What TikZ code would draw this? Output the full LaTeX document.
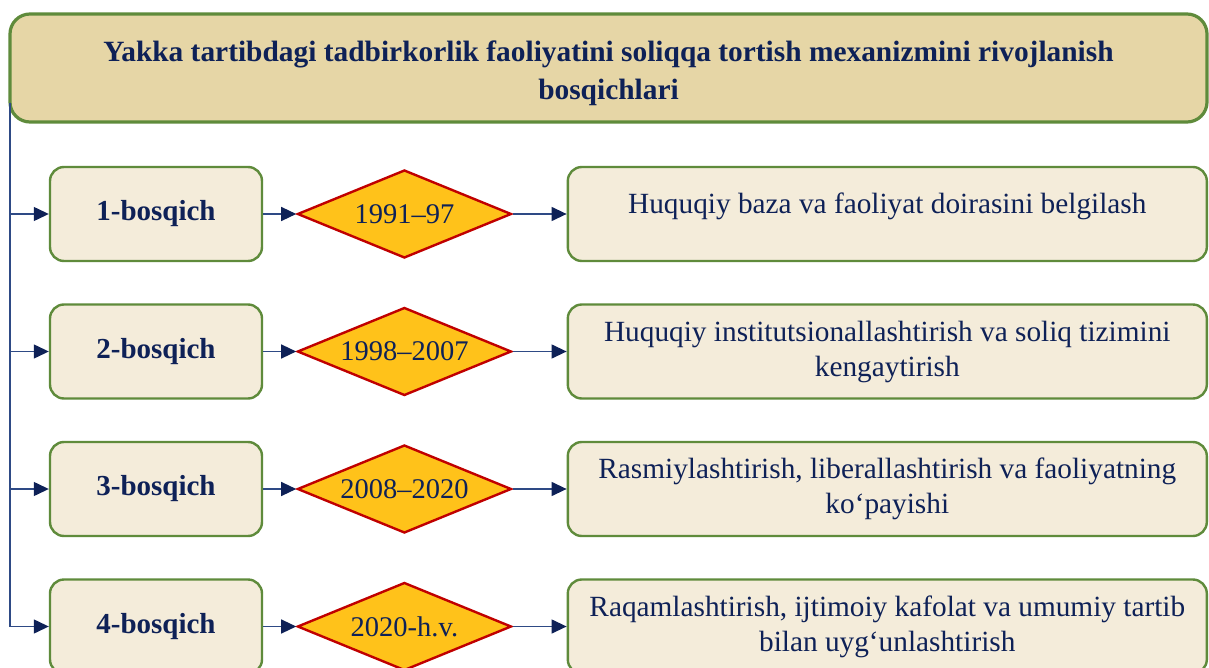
\documentclass[tikz,border=0pt]{standalone}
\usepackage{fontspec}
\setmainfont{Liberation Serif}
\usetikzlibrary{arrows.meta,positioning,shapes.geometric}
\definecolor{navy}{HTML}{0E2157}
\definecolor{linkblue}{HTML}{2E4A85}
\definecolor{leaf}{HTML}{5F8B3B}
\definecolor{sand}{HTML}{E6D6A6}
\definecolor{cream}{HTML}{F4ECDA}
\definecolor{gold}{HTML}{FFC21A}
\definecolor{brick}{HTML}{C00000}
\tikzset{
  titlebox/.style={draw=leaf, fill=sand, line width=3.2pt, rounded corners=20pt,
    minimum width=1197pt, minimum height=108pt, align=center, text=navy,
    font=\bfseries\fontsize{29.4}{38}\selectfont},
  stagebox/.style={draw=leaf, fill=cream, line width=2.4pt, rounded corners=14pt,
    minimum width=212pt, minimum height=94pt, text=navy,
    font=\bfseries\fontsize{29}{35}\selectfont},
  yearbox/.style={diamond, shape aspect=2.4, draw=brick, fill=gold, line width=2.4pt,
    inner sep=0pt, minimum width=214pt, minimum height=88pt, text=navy,
    font=\fontsize{28.5}{34}\selectfont},
  aimbox/.style={draw=leaf, fill=cream, line width=2.4pt, rounded corners=14pt,
    minimum width=639pt, minimum height=94pt, align=center, text=navy,
    font=\fontsize{29.3}{35}\selectfont},
  arr/.style={draw=linkblue, line width=1.3pt,
    -{Triangle[length=15pt,width=14pt,color=navy]}}
}
\begin{document}
\begin{tikzpicture}[x=1pt,y=-1pt]
\useasboundingbox[fill=white] (0,0) rectangle (1209,668);
\node[titlebox] (title) at (608.5,68)
  {\raisebox{-5pt}[\height][\depth]{\parbox{1150pt}{\centering Yakka tartibdagi tadbirkorlik faoliyatini soliqqa tortish mexanizmini rivojlanish\\
   bosqichlari}}};
\coordinate (top) at (10,103);

\node[stagebox] (s1) at (156,214) {1-bosqich};
\node[yearbox, right=33pt of s1] (d1) {1991–97};
\node[aimbox, right=54pt of d1] (a1) {\raisebox{8pt}[\height][\depth]{Huquqiy baza va faoliyat doirasini belgilash}};

\node[stagebox] (s2) at (156,351.5) {2-bosqich};
\node[yearbox, right=33pt of s2] (d2) {1998–2007};
\node[aimbox, right=54pt of d2] (a2) {Huquqiy institutsionallashtirish va soliq tizimini\\ kengaytirish};

\node[stagebox] (s3) at (156,489) {3-bosqich};
\node[yearbox, right=33pt of s3] (d3) {2008–2020};
\node[aimbox, right=54pt of d3] (a3) {Rasmiylashtirish, liberallashtirish va faoliyatning\\ ko‘payishi};

\node[stagebox] (s4) at (156,626.5) {4-bosqich};
\node[yearbox, right=33pt of s4] (d4) {2020-h.v.};
\node[aimbox, right=54pt of d4] (a4) {Raqamlashtirish, ijtimoiy kafolat va umumiy tartib\\ bilan uyg‘unlashtirish};

\draw[arr] (top) |- (s1);
\draw[arr] (top) |- (s2);
\draw[arr] (top) |- (s3);
\draw[arr] (top) |- (s4);
\draw[arr] (s1) -- (d1);
\draw[arr] (s2) -- (d2);
\draw[arr] (s3) -- (d3);
\draw[arr] (s4) -- (d4);
\draw[arr] (d1) -- (a1);
\draw[arr] (d2) -- (a2);
\draw[arr] (d3) -- (a3);
\draw[arr] (d4) -- (a4);
\end{tikzpicture}
\end{document}
